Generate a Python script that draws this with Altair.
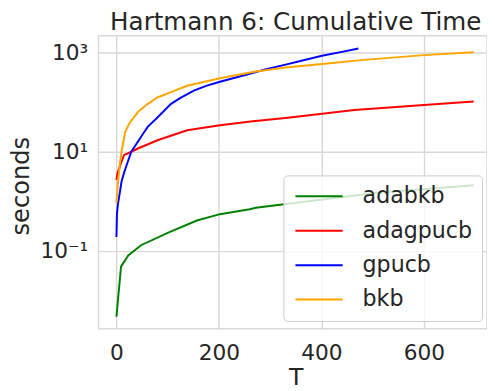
import altair as alt
import pandas as pd

# ---- data ----
series_names = ["adabkb", "adagpucb", "gpucb", "bkb"]
series_colors = ["green", "red", "blue", "orange"]

adabkb_T = [0, 9, 23, 48, 100, 157, 202, 260, 272, 327, 509, 697]
adabkb_s = [0.0047, 0.048, 0.081, 0.13, 0.23, 0.41, 0.55, 0.69, 0.74, 0.87, 1.48, 2.1]

adagpucb_T = [0, 2, 10, 15, 23, 42, 80, 138, 202, 266, 330, 464, 600, 697]
adagpucb_s = [2.7, 3.7, 6.3, 8.6, 9.3, 11.6, 17, 27, 34, 41, 48, 69, 87, 103]

gpucb_T = [0, 1, 3, 5, 10, 15, 20, 29, 42, 52, 61, 80, 106, 125, 151, 175, 202,
           253, 290, 330, 365, 401, 440, 472]
gpucb_s = [0.19, 0.55, 0.9, 1.17, 2.5, 3.8, 5.4, 10, 16, 23, 31.6, 49, 91, 122, 170,
           212, 257, 355, 455, 570, 700, 860, 1030, 1200]

bkb_T = [0, 2, 4, 7, 10, 17, 25, 42, 60, 80, 110, 138, 170, 202, 269, 330, 401,
         483, 600, 697]
bkb_s = [0.93, 1.8, 3.0, 6.0, 10, 25, 37, 63, 90, 124, 165, 213, 255, 302, 410,
         500, 585, 710, 885, 1015]

x_ticks = [0, 200, 400, 600]
y_ticks = [0.1, 10, 1000]
y_tick_labels = ["10⁻¹", "10¹", "10³"]

rows = []
for name, Ts, Ss in [
    ("adabkb", adabkb_T, adabkb_s),
    ("adagpucb", adagpucb_T, adagpucb_s),
    ("gpucb", gpucb_T, gpucb_s),
    ("bkb", bkb_T, bkb_s),
]:
    for t, s in zip(Ts, Ss):
        rows.append({"algorithm": name, "T": t, "seconds": s})
df = pd.DataFrame(rows)

label_expr = (
    f"datum.value < 1 ? '{y_tick_labels[0]}' : "
    f"datum.value < 100 ? '{y_tick_labels[1]}' : '{y_tick_labels[2]}'"
)

FONT = "DejaVu Sans"
TEXT = "#262626"
GRID = "#d9d9d9"

chart = (
    alt.Chart(df)
    .mark_line(strokeWidth=2)
    .encode(
        x=alt.X(
            "T:Q",
            scale=alt.Scale(domain=[-35, 723], nice=False, zero=False),
            axis=alt.Axis(
                values=x_ticks,
                title="T",
                ticks=False,
                tickSize=0,
                domain=False,
                labelFlush=False,
                labelPadding=14,
                labelFontSize=22,
                titleFontSize=24,
                titleX=200.5,
                titleY=57,
                titleBaseline="alphabetic",
                titleAlign="center",
            ),
        ),
        y=alt.Y(
            "seconds:Q",
            scale=alt.Scale(type="log", domain=[0.00268, 2178], nice=False),
            axis=alt.Axis(
                values=y_ticks,
                labelExpr=label_expr,
                title="seconds",
                ticks=False,
                tickSize=0,
                domain=False,
                labelPadding=11,
                labelFontSize=22,
                titleFontSize=24.5,
                titleX=-78,
                titleY=152.5,
                titleAngle=270,
                titleBaseline="middle",
                titleAlign="center",
            ),
        ),
        color=alt.Color(
            "algorithm:N",
            scale=alt.Scale(domain=series_names, range=series_colors),
            legend=alt.Legend(
                title=None,
                orient="none",
                legendX=188,
                legendY=142,
                symbolType="M-1,0H4.3333",
                symbolSize=324,
                symbolStrokeWidth=2,
                labelFontSize=22.5,
                labelOffset=48,
                padding=10,
                rowPadding=12,
                fillColor="rgba(255,255,255,0.8)",
                strokeColor="#cccccc",
                cornerRadius=4,
            ),
        ),
    )
    .properties(
        width=395,
        height=298,
        padding={"left": 92, "top": 25, "right": 0, "bottom": 60},
        autosize="none",
        title=alt.Title(
            "Hartmann 6: Cumulative Time",
            fontSize=25,
            font=FONT,
            color=TEXT,
            fontWeight="normal",
            anchor="middle",
            frame="group",
            offset=1,
            dx=3,
        ),
    )
    .configure_view(stroke=GRID, strokeWidth=1.5)
    .configure_axis(
        gridColor=GRID,
        gridWidth=1.5,
        labelFont=FONT,
        titleFont=FONT,
        labelColor=TEXT,
        titleColor=TEXT,
        titleFontWeight="normal",
    )
    .configure_legend(labelFont=FONT, labelColor=TEXT)
)

chart.save("out.html", embed_options={"renderer": "svg", "actions": False})
